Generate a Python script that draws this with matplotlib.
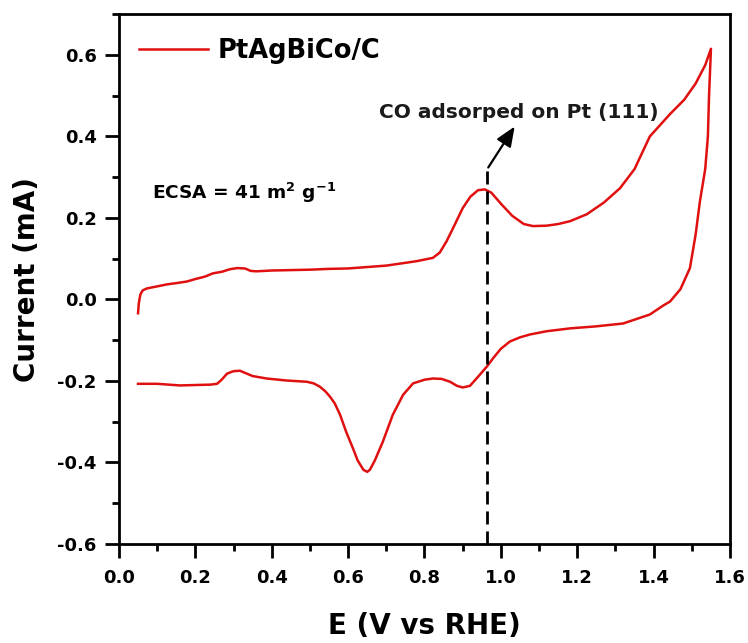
import numpy as np
import matplotlib
matplotlib.use("Agg")
import matplotlib.pyplot as plt
from matplotlib.ticker import MultipleLocator

plt.rcParams['font.family'] = ['DejaVu Sans']
plt.rcParams['axes.unicode_minus'] = False

# forward (anodic) scan
E_fwd = [0.050, 0.052, 0.056, 0.062, 0.073, 0.10, 0.126, 0.15, 0.178, 0.20, 0.225,
         0.246, 0.27, 0.29, 0.31, 0.33, 0.345, 0.36, 0.40, 0.45, 0.50, 0.55, 0.60,
         0.657, 0.70, 0.744, 0.78, 0.822, 0.84, 0.858, 0.88, 0.90, 0.92, 0.94,
         0.958, 0.975, 1.00, 1.03, 1.06, 1.084, 1.12, 1.15, 1.181, 1.225, 1.27,
         1.312, 1.35, 1.39, 1.443, 1.48, 1.51, 1.535, 1.55]
I_fwd = [-0.034, -0.010, 0.012, 0.022, 0.027, 0.032, 0.037, 0.040, 0.044, 0.050, 0.056,
         0.064, 0.068, 0.074, 0.077, 0.076, 0.070, 0.069, 0.071, 0.072, 0.073, 0.075, 0.076,
         0.080, 0.083, 0.089, 0.094, 0.102, 0.115, 0.143, 0.185, 0.224, 0.252, 0.268,
         0.270, 0.262, 0.235, 0.205, 0.185, 0.180, 0.181, 0.185, 0.192, 0.209, 0.238,
         0.273, 0.320, 0.400, 0.455, 0.490, 0.530, 0.575, 0.615]

# reverse (cathodic) scan
E_rev = [1.55, 1.545, 1.542, 1.535, 1.521, 1.51, 1.495, 1.47, 1.443, 1.425, 1.39,
         1.32, 1.25, 1.181, 1.12, 1.076, 1.05, 1.024, 1.00, 0.979, 0.963, 0.94,
         0.919, 0.90, 0.885, 0.867, 0.845, 0.822, 0.80, 0.77, 0.744, 0.717, 0.691,
         0.67, 0.657, 0.65, 0.64, 0.625, 0.613, 0.595, 0.579, 0.565, 0.553, 0.54,
         0.526, 0.51, 0.492, 0.44, 0.387, 0.35, 0.317, 0.30, 0.283, 0.27, 0.257,
         0.24, 0.20, 0.16, 0.10, 0.05]
I_rev = [0.615, 0.50, 0.40, 0.32, 0.24, 0.16, 0.077, 0.025, -0.005, -0.015, -0.037,
         -0.059, -0.066, -0.071, -0.078, -0.086, -0.093, -0.103, -0.121, -0.145, -0.165, -0.19,
         -0.212, -0.216, -0.212, -0.202, -0.195, -0.194, -0.197, -0.206, -0.234, -0.283, -0.349,
         -0.395, -0.418, -0.423, -0.418, -0.395, -0.366, -0.325, -0.283, -0.255, -0.239, -0.225,
         -0.214, -0.206, -0.202, -0.199, -0.194, -0.188, -0.175, -0.176, -0.182, -0.196, -0.207,
         -0.209, -0.210, -0.211, -0.207, -0.207]

co_E = 0.963

fig = plt.figure(figsize=(7.48, 6.43), dpi=100)
ax = fig.add_axes([0.159, 0.154, 0.817, 0.824])

ax.plot(E_fwd + E_rev, I_fwd + I_rev, color='#e01010', lw=1.8, label='PtAgBiCo/C')

# CO marker line + arrow
ax.plot([co_E, co_E], [-0.6, 0.32], color='black', ls=(0, (4.7, 2.5)), lw=2)
ax.annotate('', xy=(1.04, 0.43), xytext=(co_E, 0.318),
            arrowprops=dict(arrowstyle='-|>,head_length=0.6,head_width=0.25',
                            color='black', lw=1.6, mutation_scale=20))
ax.text(1.046, 0.444, 'CO adsorped on Pt (111)', fontsize=14.5, fontweight='bold',
        ha='center', va='baseline', color='#1a1a1a')
ax.text(0.086, 0.262, 'ECSA = 41 m$^{\\mathbf{2}}$ g$^{\\mathbf{-1}}$', fontsize=13.3,
        fontweight='bold', ha='left', va='center')

ax.set_xlim(0.0, 1.6)
ax.set_ylim(-0.6, 0.7)
ax.xaxis.set_major_locator(MultipleLocator(0.2))
ax.xaxis.set_minor_locator(MultipleLocator(0.1))
ax.yaxis.set_minor_locator(MultipleLocator(0.1))
ax.set_yticks(np.arange(-0.6, 0.61, 0.2))
ax.tick_params(which='both', direction='out', width=2, top=False, right=False)
ax.tick_params(which='major', length=10, labelsize=13, pad=6)
ax.tick_params(axis='x', which='major', pad=8)
ax.tick_params(which='minor', length=5)
for lab in ax.get_xticklabels() + ax.get_yticklabels():
    lab.set_fontweight('bold')
for sp in ax.spines.values():
    sp.set_linewidth(2)

ax.set_xlabel('E (V vs RHE)', fontsize=20, fontweight='bold', labelpad=18)
ax.set_ylabel('Current (mA)', fontsize=20, fontweight='bold', labelpad=12)

leg = ax.legend(loc='center left', bbox_to_anchor=(0.016, 0.93), borderaxespad=0,
                frameon=False, prop={'weight': 'bold', 'size': 18.5},
                handlelength=2.7, handletextpad=0.35)

fig.savefig('out.png', dpi=100)
